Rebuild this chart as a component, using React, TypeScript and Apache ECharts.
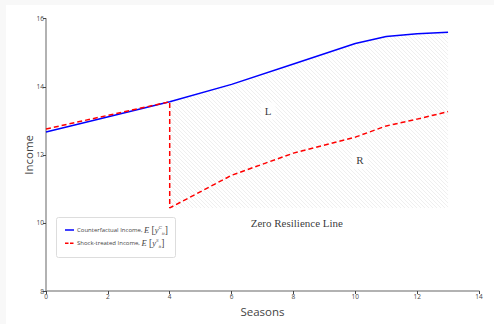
import React, { useEffect, useRef } from "react";
import * as echarts from "echarts";

const counterX = [0, 4, 6, 8, 10, 11, 12, 13];
const counterY = [12.67, 13.56, 14.07, 14.67, 15.27, 15.48, 15.56, 15.6];
const shockX = [0, 4, 4, 6, 8, 10, 11, 12, 13];
const shockY = [12.76, 13.56, 10.44, 11.4, 12.05, 12.52, 12.85, 13.05, 13.27];
const hatchBase = 10.44;
const annotations = [
  { name: "L", x: 7.18, y: 13.29 },
  { name: "R", x: 10.15, y: 11.84 },
];
const zeroLine = { name: "Zero Resilience Line", x: 8.11, y: 9.99 };
const legendNames = ["Counterfactual Income", "Shock-treated Income"];
const legendSup = ["C", "S"];
const xTicks = { min: 0, max: 14, interval: 2 };
const yTicks = { min: 8, max: 16, interval: 2 };

function makeHatch() {
  const s = 4;
  const c = document.createElement("canvas");
  c.width = s;
  c.height = s;
  const ctx = c.getContext("2d")!;
  ctx.fillStyle = "#ffffff";
  ctx.fillRect(0, 0, s, s);
  ctx.strokeStyle = "#ebebeb";
  ctx.lineWidth = 0.8;
  ctx.beginPath();
  ctx.moveTo(-1, -1);
  ctx.lineTo(s + 1, s + 1);
  ctx.moveTo(-1, s - 1);
  ctx.lineTo(1, s + 1);
  ctx.moveTo(s - 1, -1);
  ctx.lineTo(s + 1, 1);
  ctx.stroke();
  return c;
}

export default function App() {
  const ref = useRef<HTMLDivElement>(null);
  useEffect(() => {
    const chart = echarts.init(ref.current!, undefined, { renderer: "svg" });
    const hatchIdx = counterX.map((x, i) => i).filter((i) => counterX[i] >= 4);
    const tickFont = { fontFamily: "Open Sans", fontSize: 6.5, color: "#444" };
    const mathRich = {
      t: { fontFamily: "Open Sans", fontSize: 6, fill: "#444" },
      m: { fontFamily: "Liberation Serif", fontStyle: "italic", fontSize: 8.5, fill: "#444" },
      b: { fontFamily: "Liberation Serif", fontSize: 9.5, fill: "#444" },
      sup: { fontFamily: "Liberation Serif", fontStyle: "italic", fontSize: 5, fill: "#444", verticalAlign: "top" },
      sub: { fontFamily: "Liberation Serif", fontStyle: "italic", fontSize: 5, fill: "#444", verticalAlign: "bottom" },
    };
    const colors = ["#0000ff", "#ff0000"];
    const rowY = [225, 238.3];
    const legendGraphic: any[] = [
      {
        type: "rect",
        left: 50,
        top: 212,
        shape: { width: 119, height: 40, r: 2 },
        style: { fill: "#ffffff", stroke: "#dddddd", lineWidth: 1 },
        z: 10,
      },
    ];
    legendNames.forEach((n, i) => {
      legendGraphic.push({
        type: "line",
        shape: { x1: 59, y1: rowY[i], x2: 68, y2: rowY[i] },
        style: { stroke: colors[i], lineWidth: 1.5, lineDash: i === 1 ? [3.5, 1.5] : null },
        z: 11,
      });
      legendGraphic.push({
        type: "text",
        x: 71,
        y: rowY[i],
        style: {
          text: `{t|${n}, }{m|E}{b| [}{m|y}{sup|${legendSup[i]}}{sub|it}{b|]}`,
          rich: mathRich,
          verticalAlign: "middle",
          align: "left",
          lineHeight: 11,
        },
        z: 11,
      });
    });
    chart.setOption({
      animation: false,
      backgroundColor: "#ffffff",
      grid: { left: 40, right: 15, top: 13.7, bottom: 33 },
      xAxis: {
        type: "value",
        ...xTicks,
        name: "Seasons",
        nameLocation: "middle",
        nameGap: 14,
        nameMoveOverlap: false,
        nameTextStyle: { fontFamily: "Open Sans", fontSize: 11.5, color: "#444" },
        axisLine: { show: true, lineStyle: { color: "#999", width: 1.5 } },
        axisTick: { show: true, length: 3, lineStyle: { color: "#444" } },
        axisLabel: { ...tickFont, margin: 2 },
        splitLine: { show: false },
      },
      yAxis: {
        type: "value",
        ...yTicks,
        name: "Income",
        nameLocation: "middle",
        nameGap: 12,
        nameMoveOverlap: false,
        nameTextStyle: { fontFamily: "Open Sans", fontSize: 11.5, color: "#444" },
        axisLine: { show: true, lineStyle: { color: "#999", width: 1.5 } },
        axisTick: { show: true, length: 3, lineStyle: { color: "#444" } },
        axisLabel: { ...tickFont, margin: 2 },
        splitLine: { show: false },
      },
      graphic: legendGraphic,
      series: [
        {
          type: "line",
          name: "hatch",
          data: hatchIdx.map((i) => [counterX[i], counterY[i]]),
          symbol: "none",
          silent: true,
          z: 1,
          lineStyle: { width: 0, opacity: 0 },
          areaStyle: {
            origin: hatchBase,
            color: { image: makeHatch(), repeat: "repeat" },
            opacity: 1,
          },
        },
        {
          type: "line",
          name: legendNames[0],
          data: counterX.map((x, i) => [x, counterY[i]]),
          symbol: "none",
          z: 3,
          lineStyle: { color: colors[0], width: 1.5 },
          itemStyle: { color: colors[0] },
        },
        {
          type: "line",
          name: legendNames[1],
          data: shockX.map((x, i) => [x, shockY[i]]),
          symbol: "none",
          z: 3,
          lineStyle: { color: colors[1], width: 1.5, type: [5, 3] },
          itemStyle: { color: colors[1] },
        },
        {
          type: "scatter",
          name: "labels",
          symbolSize: 0,
          z: 4,
          silent: true,
          data: annotations.map((a) => ({ name: a.name, value: [a.x, a.y] })),
          label: {
            show: true,
            position: "inside",
            formatter: (p: any) => p.name,
            fontFamily: "Liberation Serif",
            fontSize: 11,
            color: "#000",
            backgroundColor: "#ffffff",
            padding: [3, 4],
          },
        },
        {
          type: "scatter",
          name: "zero",
          symbolSize: 0,
          z: 4,
          silent: true,
          data: [{ name: zeroLine.name, value: [zeroLine.x, zeroLine.y] }],
          label: {
            show: true,
            position: "inside",
            formatter: (p: any) => p.name,
            fontFamily: "Liberation Serif",
            fontSize: 11,
            color: "#000",
          },
        },
      ],
    });
    return () => chart.dispose();
  }, []);
  return (
    <div style={{ position: "fixed", left: 0, top: 0, width: 494, height: 324, background: "#f8f8f8" }}>
      <div
        ref={ref}
        style={{ position: "absolute", left: 6, top: 5, width: 488, height: 319, background: "#ffffff" }}
      />
    </div>
  );
}
